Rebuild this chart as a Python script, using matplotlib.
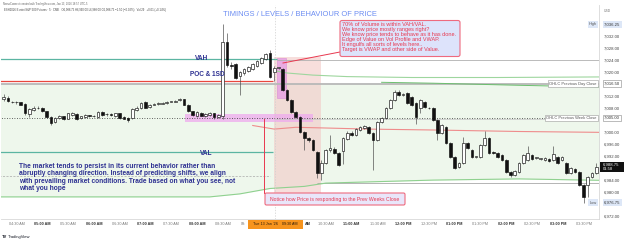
import matplotlib
matplotlib.use("Agg")
import matplotlib.pyplot as plt
from matplotlib.patches import FancyBboxPatch, Rectangle
from matplotlib.lines import Line2D
from matplotlib.transforms import IdentityTransform
import numpy as np

plt.rcParams["font.family"] = ["Liberation Sans", "DejaVu Sans"]

W, H = 625, 246

# 5 min bars from 04:15 AM (bar 0) to 03:45 PM (bar 138)
opens = [7011.5, 7011.7, 7010.5, 7010.3, 7010.3, 7009.7, 7006.3, 7007.7, 7008.5, 7008.5,
         7007.3, 7005.3, 7003.7, 7005.0, 7005.5, 7004.8, 7006.0, 7006.3, 7005.0, 7005.3,
         7005.8, 7005.7, 7005.3, 7007.0, 7006.2, 7006.2, 7005.5, 7006.5, 7005.3, 7005.0,
         7005.0, 7007.7, 7008.5, 7010.5, 7008.7, 7009.5, 7009.8, 7009.8, 7010.0, 7010.5,
         7010.5, 7011.0, 7011.3, 7009.5, 7007.3, 7005.5, 7006.7, 7005.5, 7006.0, 7006.5,
         7005.3, 7005.5, 7030.3, 7022.7, 7023.0, 7019.0, 7020.0, 7020.7, 7021.5, 7022.3,
         7023.3, 7024.7, 7026.7, 7020.3, 7021.7, 7021.3, 7014.3, 7011.0, 7007.0, 7005.3,
         7000.3, 6998.3, 6997.7, 6993.7, 6986.7, 6990.0, 6994.3, 6994.7, 6993.3, 6994.0,
         6998.0, 7000.0, 6999.3, 7001.0, 7001.7, 7002.0, 7000.0, 6997.7, 7003.7, 7005.0,
         7008.3, 7011.0, 7013.7, 7012.7, 7013.3, 7012.0, 7010.0, 7008.3, 7010.3, 7008.5,
         7008.3, 7004.3, 7000.0, 7002.0, 6996.7, 6992.0, 6988.7, 6990.0, 6996.7, 6994.3,
         6992.0, 6992.0, 6996.0, 6998.3, 6993.7, 6993.3, 6992.7, 6991.0, 6987.0, 6986.0,
         6987.0, 6990.0, 6991.0, 6992.7, 6991.7, 6991.3, 6991.0, 6991.3, 6991.0, 6992.0,
         6991.0, 6990.0, 6986.7, 6988.0, 6987.0, 6982.7, 6982.7, 6985.3, 6986.7]
highs = [7013.0, 7012.2, 7010.8, 7010.7, 7010.5, 7010.0, 7008.5, 7009.0, 7009.0, 7008.8,
         7007.5, 7005.5, 7005.3, 7006.0, 7005.7, 7006.8, 7007.0, 7006.5, 7005.8, 7006.3,
         7006.0, 7006.0, 7007.3, 7007.3, 7006.5, 7006.5, 7006.8, 7006.7, 7005.5, 7005.3,
         7008.3, 7009.0, 7010.3, 7010.8, 7009.7, 7010.0, 7010.2, 7010.3, 7010.8, 7010.8,
         7011.0, 7011.8, 7011.5, 7009.7, 7007.5, 7007.3, 7007.0, 7006.5, 7007.0, 7006.8,
         7006.3, 7036.25, 7033.5, 7023.7, 7023.5, 7020.7, 7021.7, 7022.3, 7023.3, 7024.3,
         7025.3, 7026.7, 7027.7, 7022.3, 7022.0, 7021.7, 7014.7, 7011.3, 7007.3, 7005.7,
         7000.7, 6998.7, 6998.0, 6994.0, 6991.0, 6994.7, 6999.3, 6995.3, 6993.7, 6998.7,
         7000.7, 7000.7, 7001.7, 7002.3, 7002.7, 7002.3, 7000.3, 7004.0, 7005.3, 7008.7,
         7011.3, 7014.5, 7014.3, 7013.3, 7013.7, 7012.3, 7010.3, 7011.3, 7010.7, 7008.8,
         7008.7, 7004.7, 7003.0, 7002.3, 6997.0, 6992.3, 6990.3, 6998.5, 6997.0, 6994.7,
         6992.3, 6996.3, 7000.5, 6998.7, 6994.0, 6993.7, 6993.0, 6991.3, 6987.3, 6987.7,
         6990.3, 6993.0, 6995.5, 6993.0, 6992.0, 6991.7, 6992.0, 6991.7, 6995.5, 6992.3,
         6992.3, 6990.3, 6988.7, 6988.3, 6987.3, 6983.0, 6985.7, 6987.0, 6990.0]
lows = [7010.8, 7010.3, 7010.0, 7009.8, 7009.3, 7006.0, 7005.2, 7007.3, 7008.0, 7007.0,
        7005.0, 7002.5, 7003.3, 7004.7, 7004.3, 7004.5, 7005.7, 7004.3, 7004.7, 7005.0,
        7005.3, 7005.2, 7005.0, 7005.8, 7005.8, 7005.8, 7005.3, 7004.8, 7004.5, 7003.8,
        7004.7, 7007.3, 7008.0, 7008.3, 7008.3, 7009.3, 7009.5, 7009.7, 7009.8, 7010.2,
        7010.3, 7010.8, 7009.3, 7007.0, 7005.7, 7005.2, 7005.5, 7005.3, 7005.8, 7004.5,
        7005.0, 7004.5, 7022.0, 7021.5, 7018.0, 7012.7, 7019.5, 7020.3, 7021.0, 7022.0,
        7023.0, 7024.3, 7018.3, 7017.5, 7021.3, 7014.0, 7010.7, 7006.7, 7005.0, 7000.0,
        6994.3, 6997.0, 6994.0, 6985.0, 6984.3, 6989.7, 6993.7, 6993.0, 6989.0, 6989.5,
        6997.7, 6999.0, 6999.0, 7000.7, 7001.3, 6999.7, 6987.7, 6997.3, 7003.3, 7004.7,
        7008.0, 7010.7, 7012.3, 7012.3, 7009.7, 7009.0, 7003.0, 7006.7, 7008.3, 7008.0,
        7004.0, 6997.7, 6999.7, 6996.3, 6991.7, 6988.0, 6988.3, 6989.7, 6994.7, 6991.7,
        6991.7, 6991.7, 6995.7, 6993.0, 6993.0, 6991.7, 6990.7, 6986.7, 6985.3, 6985.7,
        6986.7, 6989.7, 6990.7, 6991.0, 6991.3, 6991.0, 6990.7, 6990.3, 6990.7, 6989.7,
        6990.7, 6986.3, 6986.3, 6986.7, 6982.3, 6976.75, 6978.5, 6985.0, 6986.3]
closes = [7012.0, 7010.7, 7010.3, 7010.3, 7009.5, 7006.8, 7008.0, 7008.5, 7008.3, 7007.3,
          7005.3, 7003.3, 7005.0, 7005.5, 7004.5, 7006.5, 7006.5, 7004.7, 7005.5, 7006.0,
          7005.7, 7005.5, 7007.0, 7006.0, 7006.2, 7006.0, 7006.5, 7005.0, 7004.8, 7004.3,
          7008.0, 7008.5, 7010.0, 7008.5, 7009.3, 7009.8, 7009.8, 7010.0, 7010.5, 7010.5,
          7010.7, 7011.5, 7009.5, 7007.3, 7006.0, 7007.0, 7005.8, 7006.3, 7006.7, 7005.3,
          7006.0, 7030.3, 7022.7, 7022.3, 7018.3, 7020.3, 7021.3, 7022.0, 7023.0, 7024.0,
          7025.0, 7026.3, 7018.7, 7021.7, 7021.7, 7014.3, 7011.0, 7007.0, 7005.3, 7000.3,
          6998.3, 6997.7, 6994.3, 6986.7, 6990.0, 6994.3, 6995.0, 6993.3, 6989.3, 6998.3,
          7000.0, 6999.3, 7001.3, 7002.0, 7002.3, 7000.0, 6997.7, 7003.7, 7005.0, 7008.3,
          7011.0, 7013.7, 7012.7, 7012.7, 7010.0, 7009.3, 7005.3, 7011.0, 7008.7, 7008.3,
          7004.3, 7000.0, 7002.7, 6996.7, 6992.0, 6988.3, 6990.0, 6996.7, 6995.0, 6992.0,
          6992.0, 6996.0, 6998.3, 6993.3, 6993.3, 6992.0, 6991.0, 6987.0, 6986.0, 6987.3,
          6990.0, 6992.7, 6993.3, 6991.3, 6991.7, 6991.3, 6991.7, 6990.7, 6993.0, 6990.0,
          6992.0, 6986.7, 6988.3, 6987.0, 6982.7, 6978.7, 6985.3, 6986.7, 6988.75]

# axis labels
price_ticks = [7032, 7028, 7024, 7020, 7012, 7008, 7000, 6996, 6992, 6984, 6980, 6972]
time_ticks = [3, 9, 15, 21, 27, 33, 39, 45, 51, 75, 81, 87, 93, 99, 105, 111, 117, 123, 129, 135]
time_labels = ["04:30 AM", "05:00 AM", "05:30 AM", "06:00 AM", "06:30 AM", "07:00 AM",
               "07:30 AM", "08:00 AM", "08:30 AM",
               "10:30 AM", "11:00 AM", "11:30 AM", "12:00 PM", "12:30 PM", "01:00 PM",
               "01:30 PM", "02:00 PM", "02:30 PM", "03:00 PM", "03:30 PM"]
crosshair_label = "Tue 13 Jan '26    09:30 AM"

# levels (prices)
vah = 7024.7
poc = 7017.3
val = 6993.7
lower_ref = 6985.7
prev_day_close = 7016.5
prev_week_close = 7005.0
day_high = 7036.25
day_low = 6976.75
last_price = 6988.75
rth_open = 63.2   # 09:30 bar

# vwap + bands
band_low_bars = [-1, 48, 55, 62, 70, 75, 100, 120, 140]
band_low = [6978.7, 6978.7, 6979.7, 6981.5, 6982.2, 6983.3, 6984.3, 6984.7, 6984.2]
band_up_bars = [63, 66, 72, 80, 95, 115, 140]
band_up = [7020.8, 7020.0, 7019.3, 7018.8, 7018.5, 7018.5, 7018.7]
band_mid_bars = [88, 100, 120, 140]
band_mid = [7016.9, 7016.6, 7015.9, 7015.3]
vwap_bars = [58, 63, 68, 74, 85, 100, 120, 140]
vwap = [7002.5, 7001.3, 7001.9, 7001.7, 7001.3, 7001.0, 7000.5, 7000.2]

XMIN, XMAX = -0.6, 138.6
YMIN, YMAX = 6971.33, 7042.67

fig = plt.figure(figsize=(W / 100, H / 100), dpi=100)
ax = fig.add_axes([1 / W, 27 / H, 598 / W, 214 / H])
ax.set_xlim(XMIN, XMAX)
ax.set_ylim(YMIN, YMAX)
ax.set_xticks([])
ax.set_yticks([])
for s in ["top", "left"]:
    ax.spines[s].set_visible(False)
ax.spines["bottom"].set_color("#d8d8d8")
ax.spines["right"].set_color("#d8d8d8")
ax.spines["bottom"].set_linewidth(0.6)
ax.spines["right"].set_linewidth(0.6)

# value area shading and drawings
ax.fill_between(band_low_bars, band_low, prev_day_close, color="#eef7ec", lw=0, zorder=0)
ax.add_patch(Rectangle((62.9, 6978.7), 73.8 - 62.9, 7025.3 - 6978.7, fc="#f3c9c6", alpha=0.6, lw=0, zorder=1))
ax.add_patch(Rectangle((42.2, 7003.7), 72.0 - 42.2, 7006.3 - 7003.7, fc="#eeaaee", alpha=0.75, lw=0, zorder=1))
ax.add_patch(Rectangle((63.6, 7011.7), 2.1, 7025.0 - 7011.7, fc="#e59be5", alpha=0.75, ec="#d27ad2", lw=0.4, zorder=1))

ax.hlines(vah, -1, 63.7, color="#5bb5a2", lw=0.9, zorder=2)
ax.hlines(7024.3, 63.7, 140, color="#b0b0b0", lw=0.6, zorder=2)
ax.hlines(poc, -1, 62.7, color="#e8473e", lw=0.9, zorder=2)
ax.hlines(val, -1, 62.7, color="#5bb5a2", lw=0.9, zorder=2)
ax.hlines(lower_ref, -1, 62.0, color="#a8a8a8", lw=0.5, linestyles=(0, (3, 2)), zorder=2)
ax.hlines(prev_day_close, -1, 140, color="#b8b8b8", lw=1.3, zorder=2)
ax.hlines(prev_week_close, -1, 140, color="#333333", lw=0.6, linestyles=(0, (1, 2)), zorder=2)
ax.hlines(7004.5, 63, 140, color="#c4c4c4", lw=0.5, zorder=2)
ax.hlines(6983.4, 73, 140, color="#a8a8a8", lw=0.6, zorder=2)
ax.plot(band_low_bars, band_low, color="#8fd18f", lw=0.8, zorder=2)
ax.plot(band_up_bars, band_up, color="#9ed69e", lw=0.8, zorder=2)
ax.plot(band_mid_bars, band_mid, color="#6cbf6f", lw=0.7, zorder=2)
ax.plot(vwap_bars, vwap, color="#ef8c8c", lw=0.8, zorder=2)
ax.axvline(rth_open, color="#cfcfcf", lw=0.5, ls=(0, (2, 2)), zorder=2)

# candles
x = np.arange(len(opens))
o = np.array(opens)
c = np.array(closes)
up = c >= o
lo = np.minimum(o, c)
hgt = np.maximum(np.abs(c - o), 0.2)
ax.vlines(x, lows, highs, color="#444444", lw=0.45, zorder=4)
ax.bar(x[up], hgt[up], bottom=lo[up], width=0.62, color="white", edgecolor="#111111", linewidth=0.45, zorder=5)
ax.bar(x[~up], hgt[~up], bottom=lo[~up], width=0.62, color="#111111", edgecolor="#111111", linewidth=0.45, zorder=5)

# price axis
ytr = ax.get_yaxis_transform()
for p in price_ticks:
    ax.text(1.0084, p, f"{p:,.2f}", transform=ytr, fontsize=3.1, color="#444444",
            va="center", ha="left", clip_on=False)
ax.text(1.0084, day_high, f"{day_high:,.2f}", transform=ytr, fontsize=3.1, color="#333333", va="center",
        ha="left", clip_on=False, bbox=dict(boxstyle="square,pad=0.35", fc="#dde7f7", ec="none"))
ax.text(0.9965, day_high, "High", transform=ytr, fontsize=2.8, color="#555555", va="center", ha="right",
        bbox=dict(boxstyle="square,pad=0.35", fc="#dde7f7", ec="none"))
ax.text(1.0084, day_low, f"{day_low:,.2f}", transform=ytr, fontsize=3.1, color="#333333", va="center",
        ha="left", clip_on=False, bbox=dict(boxstyle="square,pad=0.35", fc="#dde7f7", ec="none"))
ax.text(0.9965, day_low, "Low", transform=ytr, fontsize=2.8, color="#555555", va="center", ha="right",
        bbox=dict(boxstyle="square,pad=0.35", fc="#dde7f7", ec="none"))
for p in [prev_day_close, prev_week_close]:
    ax.text(1.0084, p, f"{p:,.2f}", transform=ytr, fontsize=3.1, color="#333333", va="center",
            ha="left", clip_on=False, bbox=dict(boxstyle="square,pad=0.3", fc="white", ec="#888888", lw=0.4))
ax.text(0.9965, prev_day_close, "OHLC Previous Day Close", transform=ytr, fontsize=2.9, color="#555555",
        va="center", ha="right", bbox=dict(boxstyle="square,pad=0.3", fc="white", ec="#999999", lw=0.4))
ax.text(0.9965, prev_week_close, "OHLC Previous Week Close", transform=ytr, fontsize=2.9, color="#555555",
        va="center", ha="right", bbox=dict(boxstyle="square,pad=0.3", fc="white", ec="#999999", lw=0.4))
fig.add_artist(Rectangle((600, H - 171.5), 24, 10, transform=IdentityTransform(), fc="#111111", ec="none", zorder=1))
fig.text(603 / W, 1 - 164.3 / H, f"{last_price:,.2f}", fontsize=3.1, color="white", va="center", ha="left")
fig.text(603 / W, 1 - 169.2 / H, "01:58", fontsize=3.0, color="white", va="center", ha="left")
fig.text(604 / W, 1 - 11 / H, "USD", fontsize=2.4, color="#777777", va="center", ha="left")

# time axis
xtr = ax.get_xaxis_transform()
for t, lab in zip(time_ticks, time_labels):
    bold = lab.split(":")[1].startswith("00")
    ax.text(t, -5 / 214, lab, transform=xtr, fontsize=2.7, ha="center", va="center", clip_on=False,
            color="#333333" if bold else "#777777", fontweight="bold" if bold else "normal")
# 09:00 and 10:00 labels, mostly hidden under the crosshair tag
fig.text(246.5 / W, 1 - 224 / H, "09:", fontsize=2.7, color="#777777", ha="right", va="center")
fig.text(304.5 / W, 1 - 224 / H, "AM", fontsize=2.7, color="#333333", fontweight="bold", ha="left", va="center")
fig.add_artist(Rectangle((248, H - 228.5), 55, 9, transform=IdentityTransform(), fc="#f7941d", ec="none", zorder=1))
fig.text(275.5 / W, 1 - 224 / H, crosshair_label, fontsize=2.7, color="#2a1a0a", ha="center", va="center")

# header
fig.text(3 / W, 1 - 3.5 / H, "NemoConnect created with TradingView.com, Jan 13, 2026 18:57 UTC-5",
         fontsize=1.9, color="#666666", va="center", ha="left")
fig.text(4 / W, 1 - 9.5 / H, "ESH2026 E-mini S&P 500 Futures \u00b7 5 \u00b7 CME   O6,988.75 H6,990.00 L6,988.00 "
         "C6,988.75 \u22121.50 (\u22120.02%)   Vol 29   +0.01 (+0.14%)",
         fontsize=2.0, color="#444444", va="center", ha="left")
fig.text(2 / W, 1 - 237 / H, "TV", fontsize=3.0, color="#131722", fontweight="bold", va="center", ha="left")
fig.text(8 / W, 1 - 237 / H, "TradingView", fontsize=3.0, color="#131722", va="center", ha="left")

# annotations
fig.text(300 / W, 1 - 15 / H, "TIMINGS / LEVELS / BEHAVIOUR OF PRICE", fontsize=5.4, color="#6b8cf2",
         ha="center", va="center")
navy = "#2e3192"
fig.text(201.5 / W, 1 - 58.5 / H, "VAH", fontsize=4.7, color=navy, fontweight="bold", ha="center", va="center")
fig.text(207.5 / W, 1 - 75 / H, "POC & 1SD", fontsize=4.7, color=navy, fontweight="bold", ha="center", va="center")
fig.text(206 / W, 1 - 153.5 / H, "VAL", fontsize=4.7, color=navy, fontweight="bold", ha="center", va="center")
fig.text(19 / W, 1 - 163 / H,
         "The market tends to persist in its current behavior rather than\n"
         "abruptly changing direction. Instead of predicting shifts, we align\n"
         "with prevailing market conditions. Trade based on what you see, not\n"
         "what you hope", fontsize=4.75, color=navy, fontweight="bold", ha="left", va="top", linespacing=1.08)

red = "#e8384f"
fig.add_artist(Line2D([283, 340], [H - 63, H - 52], transform=IdentityTransform(), color=red, lw=0.7, zorder=1))
fig.add_artist(FancyBboxPatch((340, H - 56.5), 120, 36, boxstyle="round,pad=0,rounding_size=2",
                              transform=IdentityTransform(), fc="#dde3fb", ec="#ee6a7f", lw=0.8, zorder=1))
fig.text(342.5 / W, 1 - 21.5 / H,
         "70% of Volume is within VAH/VAL.\n"
         "We know price mostly ranges right?\n"
         "We know price tends to behave as it has done.\n"
         "Edge of Value on Vol Profile and VWAP.\n"
         "It engulfs all sorts of levels here..\n"
         "Target is VWAP and other side of Value.",
         fontsize=3.95, color=red, ha="left", va="top", linespacing=1.03)

fig.add_artist(Line2D([264, 264], [H - 119, H - 193], transform=IdentityTransform(), color=red, lw=0.7, zorder=1))
fig.add_artist(FancyBboxPatch((265, H - 205), 140, 12, boxstyle="round,pad=0,rounding_size=1.5",
                              transform=IdentityTransform(), fc="#e9e6fa", ec="#ee6a7f", lw=0.8, zorder=1))
fig.text(335 / W, 1 - 199 / H, "Notice how Price is responding to the Prev Weeks Close",
         fontsize=3.7, color=red, ha="center", va="center")

fig.savefig("out.png", dpi=100, facecolor="white")
